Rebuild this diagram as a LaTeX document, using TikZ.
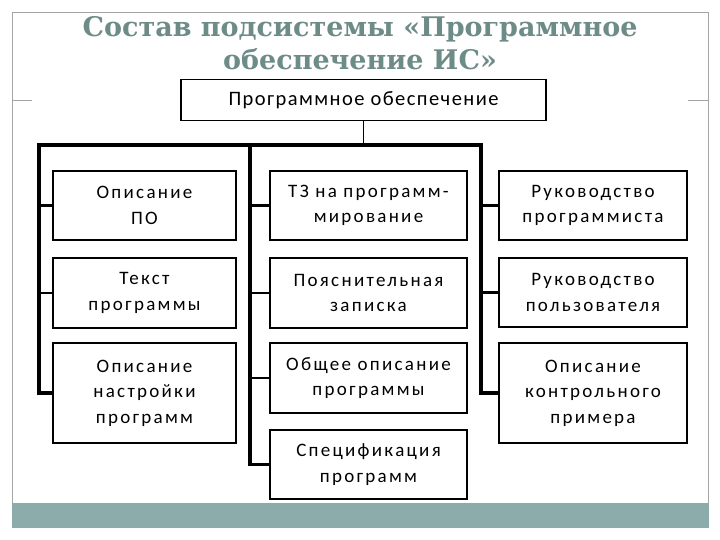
\documentclass[tikz,border=0pt]{standalone}
\usepackage{fontspec}
\setmainfont{Carlito}
\newfontfamily\boxfont[LetterSpace=12]{Carlito}
\newfontfamily\rootfont[LetterSpace=7]{Carlito}
\newfontfamily\titlefont{DejaVu Serif}
\usetikzlibrary{positioning}
\definecolor{titlegray}{RGB}{110,140,135}
\definecolor{barteal}{RGB}{139,172,170}
\definecolor{framegray}{RGB}{165,165,165}

\begin{document}
\begin{tikzpicture}[x=1pt,y=-1pt,
  box/.style={draw=black,line width=1.5pt,align=center,inner sep=0pt,
    font=\boxfont\fontsize{19}{25.5}\selectfont},
  bus/.style={line width=3.2pt},
  stub/.style={line width=2.6pt},
  heading/.style={titlegray,anchor=base,font=\titlefont\bfseries\fontsize{27}{33}\selectfont}]
  \useasboundingbox (0,0) rectangle (720,540);
  % рамка слайда
  \fill[white] (0,0) rectangle (720,540);
  \draw[framegray,line width=0.8pt] (12.5,503) -- (12.5,12.5) -- (708,12.5) -- (708,503);
  \draw[framegray] (12.5,100) -- (32,100);
  \draw[framegray] (688,100) -- (708,100);
  \fill[barteal] (12,503) rectangle (708.5,528);

  % заголовок
  \node[heading] (title1) at (360,37) {Состав подсистемы «Программное};
  \node[heading] (title2) at (360,70) {обеспечение ИС»};

  % корень
  \node[box,minimum width=365,minimum height=41,font=\rootfont\fontsize{20.5}{25}\selectfont] (po) at (363.5,100) {Программное обеспечение};

  % первый столбец
  \node[box,minimum width=183,minimum height=69] (c1a) at (144.5,205.5) {Описание\\ПО};
  \node[box,minimum width=183,minimum height=70] (c1b) at (144.5,293) {Текст\\программы};
  \node[box,minimum width=183,minimum height=100] (c1c) at (144.5,393) {Описание\\настройки\\программ};
  % второй столбец
  \node[box,minimum width=197,minimum height=69] (c2a) at (368.5,205.5) {ТЗ на программ-\\мирование};
  \node[box,minimum width=197,minimum height=70] (c2b) at (368.5,293) {Пояснительная\\записка};
  \node[box,minimum width=197,minimum height=70] (c2c) at (368.5,378) {Общее описание\\программы};
  \node[box,minimum width=197,minimum height=69] (c2d) at (368.5,464.5) {Спецификация\\программ};
  % третий столбец
  \node[box,minimum width=188,minimum height=69] (c3a) at (593,205.5) {Руководство\\программиста};
  \node[box,minimum width=188,minimum height=69] (c3b) at (593,292.5) {Руководство\\пользователя};
  \node[box,minimum width=188,minimum height=100] (c3c) at (593,393) {Описание\\контрольного\\примера};

  % шина
  \coordinate (b1) at (39,145);
  \coordinate (b2) at (250,145);
  \coordinate (b3) at (481,145);
  \draw[line width=1.5pt] (po.south) -- (po.south |- b1);
  \draw[bus] (c1c.west) -| (b1) -- (b3) |- (c3c.west);
  \draw[bus] (b2) |- (c2d.west);
  \foreach \b/\n in {b1/c1a,b1/c1b,b2/c2a,b2/c2b,b2/c2c,b3/c3a,b3/c3b}
    \draw[stub] (\b |- \n.west) -- (\n.west);
\end{tikzpicture}
\end{document}
